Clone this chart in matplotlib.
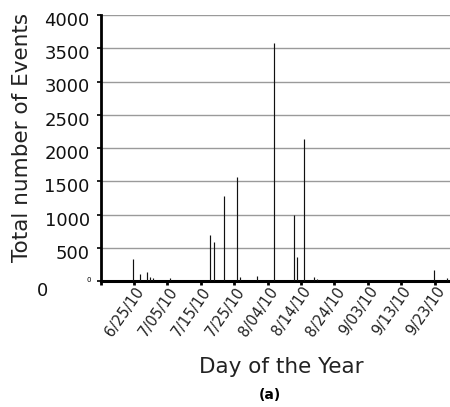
import matplotlib
matplotlib.use('Agg')
import matplotlib.pyplot as plt
import matplotlib.dates as mdates
import matplotlib.transforms as mtransforms
import pandas as pd

# ---------------- data ----------------
event_dates = ['2010-06-24', '2010-06-26', '2010-06-28', '2010-06-29', '2010-06-30',
               '2010-07-05', '2010-07-17', '2010-07-18', '2010-07-21', '2010-07-25',
               '2010-07-26', '2010-07-31', '2010-08-05', '2010-08-11', '2010-08-12',
               '2010-08-14', '2010-08-17', '2010-08-18', '2010-09-22', '2010-09-26']
event_counts = [325, 105, 130, 65, 50,
                40, 692, 591, 1285, 1560,
                55, 80, 3575, 1000, 356,
                2135, 55, 30, 160, 40]
x_tick_labels = ['6/25/10', '7/05/10', '7/15/10', '7/25/10', '8/04/10',
                 '8/14/10', '8/24/10', '9/03/10', '9/13/10', '9/23/10']
y_ticks = [0, 500, 1000, 1500, 2000, 2500, 3000, 3500, 4000]
y_tick_labels = ['0', '500', '1000', '1500', '2000', '2500', '3000', '3500', '4000']
x_label = 'Day of the Year'
y_label = 'Total number of Events'
panel_label = '(a)'

# ---------------- figure ----------------
plt.rcParams['font.family'] = ['DejaVu Sans']
fig = plt.figure(figsize=(4.5, 4.07), dpi=100)
W, H = 450, 407
ax_left, ax_right, ax_top, ax_bottom = 100.7, 462, 15, 281
ax = fig.add_axes([ax_left / W, 1 - ax_bottom / H,
                   (ax_right - ax_left) / W, (ax_bottom - ax_top) / H])

xd = mdates.datestr2num(event_dates) + 0.8
ax.bar(xd, event_counts, width=0.01, color='#111111', edgecolor='#111111',
       linewidth=0.85, zorder=3)

tick_dates = mdates.date2num(pd.to_datetime(x_tick_labels, format='%m/%d/%y'))
first = tick_dates[0] - 10
all_ticks = [first] + list(tick_dates)
ax.set_xticks(all_ticks)
ax.set_xticklabels([''] + x_tick_labels, rotation=55, ha='right',
                   rotation_mode='anchor', va='center', fontsize=10.5,
                   color='#222222')
ax.set_xlim(first, tick_dates[0] + 98.2)
ax.set_ylim(0, 4000)

# y ticks: marks only, labels drawn as text (offset like the reference)
ax.set_yticks(y_ticks)
ax.set_yticklabels([])
ytrans = ax.get_yaxis_transform() + mtransforms.ScaledTranslation(
    -11 / 100, -6 / 100, fig.dpi_scale_trans)
ytrans0 = ax.get_yaxis_transform() + mtransforms.ScaledTranslation(
    -10 / 100, 1 / 100, fig.dpi_scale_trans)
for v, lab in zip(y_ticks, y_tick_labels):
    if v == 0:
        ax.text(0, v, lab, transform=ytrans0, fontsize=5, ha='right',
                va='center', clip_on=False)
    else:
        ax.text(0, v, lab, transform=ytrans, fontsize=13, ha='right',
                va='center', clip_on=False, color='#111111')

ax.tick_params(axis='y', direction='out', length=3, width=1.2, color='black')
ax.tick_params(axis='x', direction='out', length=3, width=2, pad=3, color='black')
xshift = mtransforms.ScaledTranslation(7 / 100, 1 / 100, fig.dpi_scale_trans)
for lab in ax.get_xticklabels():
    lab.set_transform(lab.get_transform() + xshift)

for s in ['top', 'right']:
    ax.spines[s].set_visible(False)
ax.spines['bottom'].set_linewidth(2.2)
ax.spines['left'].set_linewidth(2.0)

ax.yaxis.grid(True, color='#9a9a9a', linewidth=1.0, zorder=0)
ax.set_axisbelow(True)

fig.text(42.5 / W, 1 - 291 / H, '0', fontsize=13, ha='center', va='center',
         color='#111111')
fig.text(22 / W, 1 - 137.5 / H, y_label, rotation=90, fontsize=15.5,
         ha='center', va='center', color='#222222')
fig.text(281.5 / W, 1 - 367 / H, x_label, fontsize=15.5, ha='center',
         va='center', color='#222222')
fig.text(270 / W, 1 - 395 / H, panel_label, fontsize=10, fontweight='bold',
         ha='center', va='center')

fig.savefig('out.png', dpi=100)
